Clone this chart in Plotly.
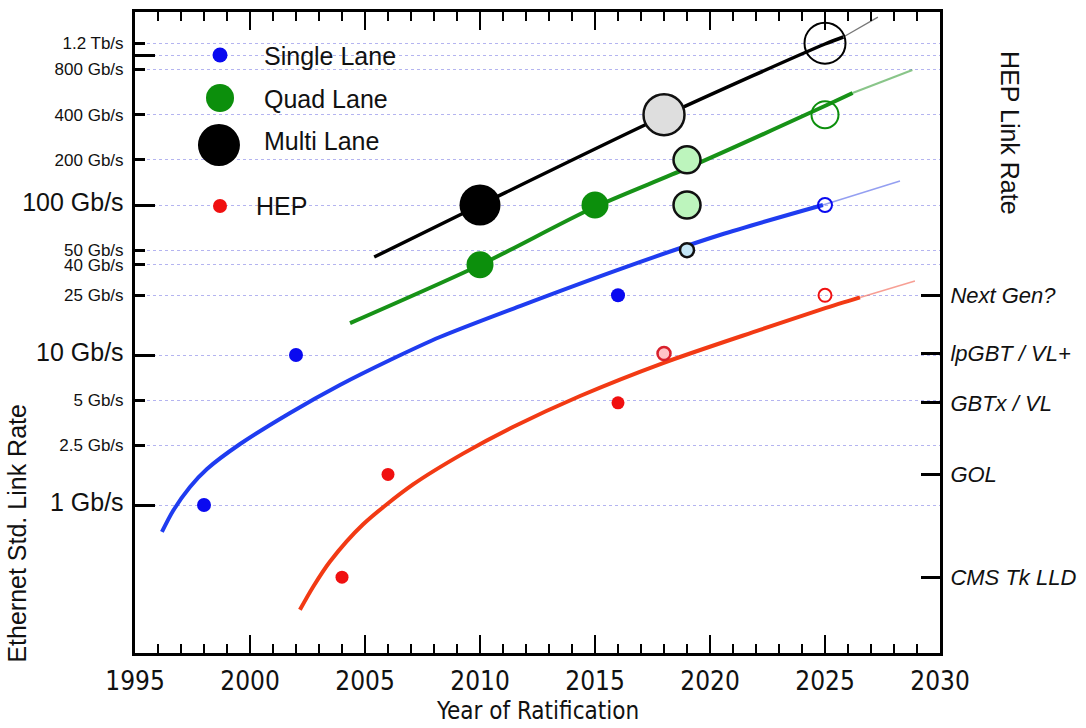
import plotly.graph_objects as go

# ---------------- data ----------------
# Ethernet standards: year of ratification and link rate in Gb/s
single_years = [1998, 2002, 2016, 2019, 2025]
single_rates = [1, 10, 25, 50, 100]
single_status = ["ratified", "ratified", "ratified", "planned", "future"]

quad_years = [2010, 2015, 2019, 2019, 2025]
quad_rates = [40, 100, 100, 200, 400]
quad_status = ["ratified", "ratified", "planned", "planned", "future"]

multi_years = [2010, 2018, 2025]
multi_rates = [100, 400, 1200]
multi_status = ["ratified", "planned", "future"]

# HEP links
hep_years = [2004, 2006, 2016, 2018, 2025]
hep_rates = [0.33, 1.6, 4.8, 10.24, 25]
hep_labels = ["CMS Tk LLD", "GOL", "GBTx / VL", "lpGBT / VL+", "Next Gen?"]
hep_status = ["ratified", "ratified", "ratified", "planned", "future"]

# hand-drawn trend curves
single_trend_years = [1996.17, 1996.65, 1997.39, 1998.13, 1999.57, 2001.74, 2003.91, 2006.09,
                      2008.26, 2011.74, 2016.09, 2020.43, 2024.91, 2028.26]
single_trend_rates = [0.661, 0.912, 1.318, 1.738, 2.55, 4.11, 6.31, 9.26,
                      13.18, 21.2, 37.4, 63.1, 100, 144.5]
single_trend_fade = 2024.91

quad_trend_years = [2004.35, 2010.0, 2014.9, 2019.0, 2024.8, 2026.2, 2028.8]
quad_trend_rates = [16.3, 39.8, 95.5, 176, 443, 558, 794]
quad_trend_fade = 2026.2

multi_trend_years = [2005.4, 2010, 2018, 2025, 2025.8, 2027.3]
multi_trend_rates = [45, 100, 392, 1184, 1318, 1790]
multi_trend_fade = 2025.8

hep_trend_years = [2002.17, 2002.74, 2003.48, 2004.91, 2007.09, 2009.26, 2011.43, 2014.35,
                   2017.96, 2022.17, 2024.91, 2026.52, 2028.91]
hep_trend_rates = [0.20, 0.284, 0.42, 0.741, 1.37, 2.2, 3.31, 5.33,
                   8.84, 14.7, 20.3, 24.2, 31.1]
hep_trend_fade = 2026.52

# axes
year_ticks = [1995, 2000, 2005, 2010, 2015, 2020, 2025, 2030]
rate_tick_vals = [1, 2.5, 5, 10, 25, 40, 50, 100, 200, 400, 800, 1000, 1200]
rate_tick_text = ["1 Gb/s", "2.5 Gb/s", "5 Gb/s", "10 Gb/s", "25 Gb/s", "40 Gb/s", "50 Gb/s",
                  "100 Gb/s", "200 Gb/s", "400 Gb/s", "800 Gb/s", "", "1.2 Tb/s"]
rate_decades = [1, 10, 100, 1000]
legend_names = ["Single Lane", "Quad Lane", "Multi Lane", "HEP"]

# ---------------- styling ----------------
SANS = "Liberation Sans, Arial, Helvetica, sans-serif"
NARROW = "Liberation Sans Narrow, Arial Narrow, DejaVu Sans Condensed, Liberation Sans, sans-serif"
BLUE, GREEN, BLACK, RED = "#0a0af0", "#0c8f0c", "#000000", "#f01010"
BLUE_L, GREEN_L, GRAY_L, RED_L = "#c4e6f6", "#bdf5bd", "#dedede", "#ffc4c8"
SMOOTH = 0.8

fig = go.Figure()


def add_trend(years, rates, fade, color, width, tail_color, tail_width, yaxis="y"):
    solid_x = [y for y in years if y <= fade]
    solid_y = [r for y, r in zip(years, rates) if y <= fade]
    tail_x = [y for y in years if y >= fade]
    tail_y = [r for y, r in zip(years, rates) if y >= fade]
    fig.add_trace(go.Scatter(x=solid_x, y=solid_y, mode="lines", yaxis=yaxis,
                             line=dict(color=color, width=width, shape="spline", smoothing=SMOOTH),
                             hoverinfo="skip"))
    fig.add_trace(go.Scatter(x=tail_x, y=tail_y, mode="lines", yaxis=yaxis,
                             line=dict(color=tail_color, width=tail_width, shape="spline",
                                       smoothing=SMOOTH),
                             hoverinfo="skip"))


def add_points(years, rates, status, color, light, edge, size, yaxis="y"):
    styles = {
        "ratified": dict(fill=color, lc=color, lw=0),
        "planned": dict(fill=light, lc=edge, lw=2.5),
        "future": dict(fill="rgba(255,255,255,0)", lc=color, lw=2),
    }
    for st, s in styles.items():
        xs = [y for y, t in zip(years, status) if t == st]
        ys = [r for r, t in zip(rates, status) if t == st]
        if not xs:
            continue
        fig.add_trace(go.Scatter(x=xs, y=ys, mode="markers", yaxis=yaxis,
                                 marker=dict(size=size, color=s["fill"],
                                             line=dict(color=s["lc"], width=s["lw"]))))


add_trend(hep_trend_years, hep_trend_rates, hep_trend_fade, "#f23a14", 4, "rgba(240,80,60,0.55)", 1.5, "y2")
add_trend(single_trend_years, single_trend_rates, single_trend_fade, "#1f3cf0", 4, "rgba(60,80,230,0.55)", 1.5)
add_trend(quad_trend_years, quad_trend_rates, quad_trend_fade, "#179217", 4, "rgba(40,150,40,0.55)", 2)
add_trend(multi_trend_years, multi_trend_rates, multi_trend_fade, "#000000", 3.5, "#777777", 1.3)

add_points(single_years, single_rates, single_status, BLUE, BLUE_L, "#111111", 14)
add_points(quad_years, quad_rates, quad_status, GREEN, GREEN_L, "#111111", 27)
add_points(multi_years, multi_rates, multi_status, BLACK, GRAY_L, "#111111", 41)
add_points(hep_years, hep_rates, hep_status, RED, RED_L, "#d8202c", 13, "y2")

# ---------------- legend (drawn inside the plot) ----------------
legend_colors = [BLUE, GREEN, BLACK, RED]
legend_sizes = [15, 28, 42, 14]
legend_marker_x = [0.1056, 0.1056, 0.1043, 0.1056]
legend_marker_y = [0.9329, 0.8658, 0.7925, 0.6973]
legend_text_x = [0.1578, 0.1578, 0.1578, 0.1478]
legend_text_y = [0.9314, 0.8643, 0.7988, 0.6973]
shapes = []
annotations = []
for name, c, s, mx, my, tx, ty in zip(legend_names, legend_colors, legend_sizes,
                                      legend_marker_x, legend_marker_y, legend_text_x, legend_text_y):
    shapes.append(dict(type="circle", xref="paper", yref="paper", xsizemode="pixel",
                       ysizemode="pixel", xanchor=mx, yanchor=my, x0=-s / 2, x1=s / 2,
                       y0=-s / 2, y1=s / 2, fillcolor=c, line=dict(width=0)))
    annotations.append(dict(text=name, xref="paper", yref="paper", x=tx, y=ty,
                            xanchor="left", yanchor="middle", showarrow=False,
                            font=dict(family=SANS, size=25, color="#111")))

annotations += [
    dict(text="Ethernet Std. Link Rate", xref="paper", yref="paper", x=-0.146, y=0.187,
         textangle=-90, showarrow=False, xanchor="center", yanchor="middle",
         font=dict(family=SANS, size=25, color="#111")),
    dict(text="HEP Link Rate", xref="paper", yref="paper", x=1.087, y=0.811,
         textangle=90, showarrow=False, xanchor="center", yanchor="middle",
         font=dict(family=SANS, size=25, color="#111")),
    dict(text="Year of Ratification", xref="paper", yref="paper", x=0.5, y=-0.091,
         showarrow=False, xanchor="center", yanchor="middle",
         font=dict(family=NARROW, size=24, color="#111")),
]

big = set(rate_decades)
tick_text = [f'<span style="font-size:25px">{t}</span>' if v in big else t
             for v, t in zip(rate_tick_vals, rate_tick_text)]

fig.update_layout(
    template="none",
    width=1086, height=728,
    margin=dict(l=135, r=146, t=12, b=75, autoexpand=False),
    paper_bgcolor="white", plot_bgcolor="white",
    showlegend=False,
    font=dict(family=SANS, color="#111"),
    shapes=shapes, annotations=annotations,
    xaxis=dict(range=[1995, 2030], tickvals=year_ticks, ticks="inside", ticklen=18,
               tickwidth=2, tickcolor="black", showline=True, linewidth=3, linecolor="black",
               mirror="ticks", showgrid=False, zeroline=False, automargin=False,
               tickfont=dict(family=NARROW, size=26, color="#111"), ticklabelstandoff=3,
               minor=dict(dtick=1, ticks="inside", ticklen=9, tickwidth=2, tickcolor="black",
                          showgrid=False)),
    yaxis=dict(type="log", range=[-0.9867, 3.2867], tickmode="array", tickvals=rate_tick_vals,
               ticktext=tick_text, ticks="inside", ticklen=10, tickwidth=3, tickcolor="black",
               showline=True, linewidth=3, linecolor="black", mirror=True,
               showgrid=True, gridcolor="#b4b4f0", griddash="dot", gridwidth=1,
               zeroline=False, automargin=False, ticklabelstandoff=5,
               tickfont=dict(family=SANS, size=17, color="#111"),
               minor=dict(tickmode="array", tickvals=rate_decades, ticks="inside", ticklen=20,
                          tickwidth=3, tickcolor="black", showgrid=False)),
    yaxis2=dict(type="log", range=[-0.9867, 3.2867], overlaying="y", side="right",
                tickmode="array", tickvals=hep_rates, ticktext=hep_labels, ticks="inside",
                ticklen=19, tickwidth=3, tickcolor="black", showline=True, linewidth=3,
                linecolor="black", showgrid=False, zeroline=False, automargin=False,
                ticklabelstandoff=3,
                tickfont=dict(family=SANS, size=22, color="#111", style="italic")),
)

fig.write_html("out.html", config={"displayModeBar": False},
               post_script="document.body.style.margin='0px';")
